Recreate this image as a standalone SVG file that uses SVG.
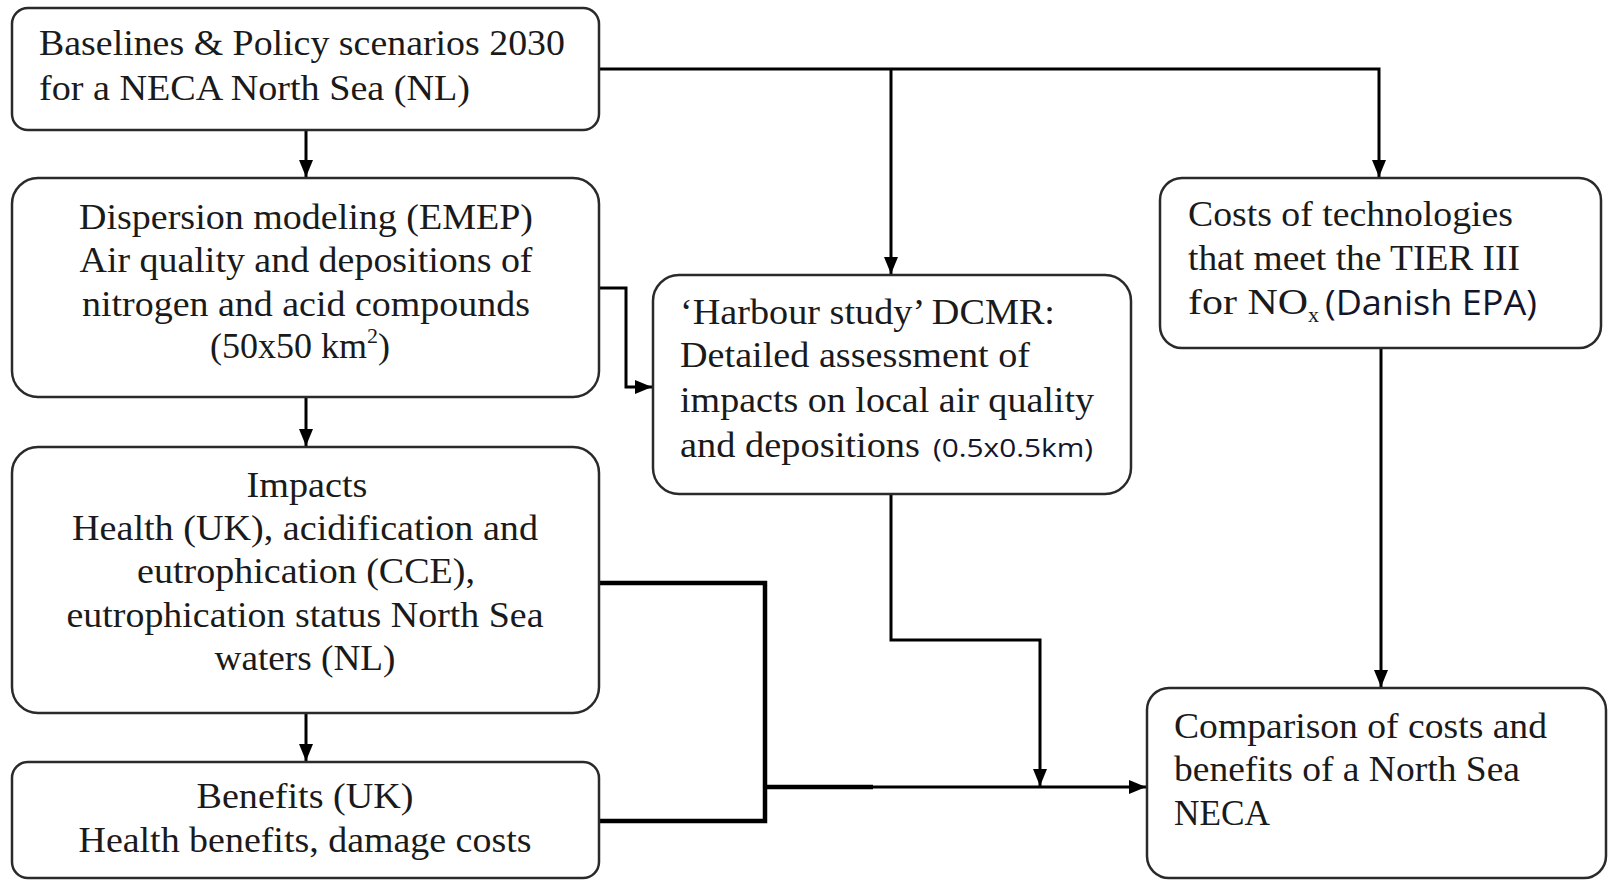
<svg xmlns="http://www.w3.org/2000/svg" width="1610" height="880" viewBox="0 0 1610 880">
<style>
.box{fill:#fff;stroke:#2a2a2a;stroke-width:2.5}
.t{font-family:"Liberation Serif","Times New Roman",serif;font-size:36px;fill:#1a1a1a}
.c{text-anchor:middle}
.s{font-family:"Open Sans","Noto Sans","Liberation Sans",sans-serif;fill:#14142a}
.ln{fill:none;stroke:#000;stroke-width:3}
.thick{fill:none;stroke:#000;stroke-width:4.5}
</style>
<defs>
<marker id="ah" markerUnits="userSpaceOnUse" markerWidth="18" markerHeight="18" viewBox="0 0 18 18" refX="17" refY="9" orient="auto">
<path d="M0,2 L17,9 L0,16 Z" fill="#000"/>
</marker>
</defs>
<rect width="1610" height="880" fill="#fff"/>
<g id="connectors">
<path class="ln" d="M306 130 V177" marker-end="url(#ah)"/>
<path class="ln" d="M599 69 H1379 V177" marker-end="url(#ah)"/>
<path class="ln" d="M891 69 V274" marker-end="url(#ah)"/>
<path class="ln" d="M599 288 H626 V387 H652" marker-end="url(#ah)"/>
<path class="ln" d="M306 397 V446" marker-end="url(#ah)"/>
<path class="ln" d="M306 713 V761" marker-end="url(#ah)"/>
<path class="thick" d="M599 583 H765 V821 H599"/>
<path class="ln" d="M765 787 H1146" marker-end="url(#ah)"/>
<path class="thick" d="M765 787 H873"/>
<path class="ln" d="M891 494 V640 H1040 V786" marker-end="url(#ah)"/>
<path class="ln" d="M1381 348 V687" marker-end="url(#ah)"/>
</g>
<g id="baselines">
<rect class="box" x="12" y="8" width="587" height="122" rx="16"/>
<text class="t" x="39" y="55" textLength="526" lengthAdjust="spacingAndGlyphs">Baselines &amp; Policy scenarios 2030</text>
<text class="t" x="39" y="100" textLength="431" lengthAdjust="spacingAndGlyphs">for a NECA North Sea (NL)</text>
</g>
<g id="dispersion">
<rect class="box" x="12" y="178" width="587" height="219" rx="26"/>
<text class="t c" x="306" y="229" textLength="454" lengthAdjust="spacingAndGlyphs">Dispersion modeling (EMEP)</text>
<text class="t c" x="306" y="272" textLength="453" lengthAdjust="spacingAndGlyphs">Air quality and depositions of</text>
<text class="t c" x="306" y="316" textLength="448" lengthAdjust="spacingAndGlyphs">nitrogen and acid compounds</text>
<text class="t" x="210" y="358">(50x50 km<tspan font-size="22" dy="-15">2</tspan><tspan dy="15">)</tspan></text>
</g>
<g id="impacts">
<rect class="box" x="12" y="447" width="587" height="266" rx="26"/>
<text class="t c" x="307" y="497" textLength="121" lengthAdjust="spacingAndGlyphs">Impacts</text>
<text class="t c" x="305" y="540" textLength="466" lengthAdjust="spacingAndGlyphs">Health (UK), acidification and</text>
<text class="t c" x="306" y="583" textLength="338" lengthAdjust="spacingAndGlyphs">eutrophication (CCE),</text>
<text class="t c" x="305" y="627" textLength="477" lengthAdjust="spacingAndGlyphs">eutrophication status North Sea</text>
<text class="t c" x="305" y="670" textLength="181" lengthAdjust="spacingAndGlyphs">waters (NL)</text>
</g>
<g id="benefits">
<rect class="box" x="12" y="762" width="587" height="116" rx="16"/>
<text class="t c" x="305" y="808" textLength="217" lengthAdjust="spacingAndGlyphs">Benefits (UK)</text>
<text class="t c" x="305" y="852" textLength="453" lengthAdjust="spacingAndGlyphs">Health benefits, damage costs</text>
</g>
<g id="harbour">
<rect class="box" x="653" y="275" width="478" height="219" rx="26"/>
<text class="t" x="680" y="324" textLength="375" lengthAdjust="spacingAndGlyphs">‘Harbour study’ DCMR:</text>
<text class="t" x="680" y="367" textLength="350" lengthAdjust="spacingAndGlyphs">Detailed assessment of</text>
<text class="t" x="680" y="412" textLength="414" lengthAdjust="spacingAndGlyphs">impacts on local air quality</text>
<text class="t" x="680" y="457" textLength="240" lengthAdjust="spacingAndGlyphs">and depositions</text>
<text class="s" x="933" y="457" font-size="25" textLength="160" lengthAdjust="spacingAndGlyphs">(0.5x0.5km)</text>
</g>
<g id="costs">
<rect class="box" x="1160" y="178" width="441" height="170" rx="22"/>
<text class="t" x="1188" y="226" textLength="325" lengthAdjust="spacingAndGlyphs">Costs of technologies</text>
<text class="t" x="1188" y="270" textLength="332" lengthAdjust="spacingAndGlyphs">that meet the TIER III</text>
<text class="t" x="1188" y="314"><tspan textLength="120" lengthAdjust="spacingAndGlyphs">for NO</tspan><tspan font-size="22" dy="8">x</tspan></text>
<text class="s" x="1325" y="315" font-size="34" textLength="212" lengthAdjust="spacingAndGlyphs">(Danish EPA)</text>
</g>
<g id="comparison">
<rect class="box" x="1147" y="688" width="459" height="190" rx="22"/>
<text class="t" x="1174" y="738" textLength="373" lengthAdjust="spacingAndGlyphs">Comparison of costs and</text>
<text class="t" x="1174" y="781" textLength="346" lengthAdjust="spacingAndGlyphs">benefits of a North Sea</text>
<text class="t" x="1174" y="825" textLength="96" lengthAdjust="spacingAndGlyphs">NECA</text>
</g>
</svg>
